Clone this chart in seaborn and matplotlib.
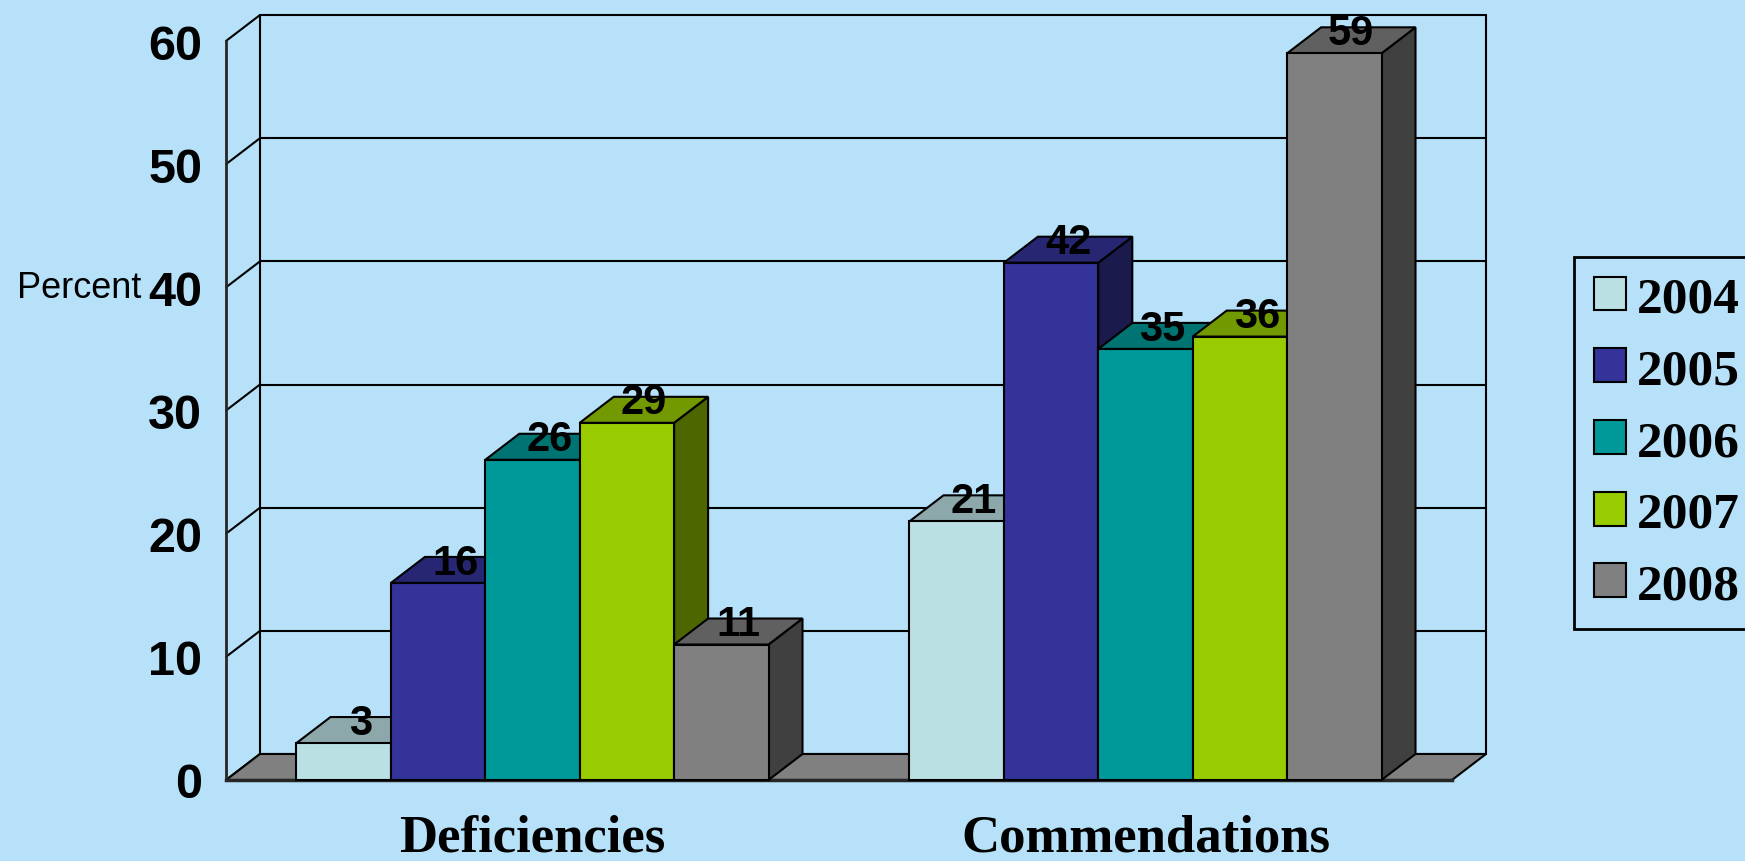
import numpy as np
import pandas as pd
import matplotlib
matplotlib.use("Agg")
import matplotlib.pyplot as plt
import seaborn as sns
from matplotlib.patches import Polygon, Patch, Rectangle
from matplotlib.colors import to_rgb

# ---------------- data ----------------
categories = ["Deficiencies", "Commendations"]
years = ["2004", "2005", "2006", "2007", "2008"]
deficiencies = [3, 16, 26, 29, 11]
commendations = [21, 42, 35, 36, 59]
y_ticks = [0, 10, 20, 30, 40, 50, 60]
y_label = "Percent"
colors = ["#BBE0E3", "#333399", "#009999", "#99CC00", "#808080"]

# ---------------- style ----------------
BG = "#B6E1F9"
FIG_W, FIG_H, DPI = 1745, 862, 100
AX_LEFT, AX_RIGHT, AX_TOP, AX_BOTTOM = 226, 1452, 42, 781  # pixels
DEPTH_PX = (34, 26)
BAR_WIDTH = 0.77

sns.set_style("white")
plt.rcParams["font.family"] = ["Liberation Sans", "DejaVu Sans"]
plt.rcParams.update({"text.color": "black", "axes.labelcolor": "black",
                     "xtick.color": "black", "ytick.color": "black"})

rows = []
for cat, vals in zip(categories, [deficiencies, commendations]):
    for yr, v in zip(years, vals):
        rows.append({"category": cat, "year": yr, "value": v})
df = pd.DataFrame(rows)

fig = plt.figure(figsize=(FIG_W / DPI, FIG_H / DPI), dpi=DPI, facecolor=BG)
ax = fig.add_axes([AX_LEFT / FIG_W, (FIG_H - AX_BOTTOM) / FIG_H,
                   (AX_RIGHT - AX_LEFT) / FIG_W, (AX_BOTTOM - AX_TOP) / FIG_H])
ax.set_facecolor("none")

sns.barplot(data=df, x="category", y="value", hue="year", order=categories,
            hue_order=years, palette=colors, width=BAR_WIDTH, saturation=1,
            edgecolor="black", linewidth=1.5, legend=False, ax=ax)

bars = sorted([p for p in ax.patches if isinstance(p, Rectangle) and p.get_height() > 0],
              key=lambda p: p.get_x())

ax.set_xlim(-0.5, len(categories) - 0.5)
ax.set_ylim(y_ticks[0], y_ticks[-1])

# convert depth offset to data units
x0, x1 = ax.get_xlim()
y0, y1 = ax.get_ylim()
dx = DEPTH_PX[0] * (x1 - x0) / (AX_RIGHT - AX_LEFT)
dy = DEPTH_PX[1] * (y1 - y0) / (AX_BOTTOM - AX_TOP)

# back wall + side wall grid
for t in y_ticks:
    ax.plot([x0 + dx, x1 + dx], [t + dy, t + dy], color="black", lw=1.5,
            clip_on=False, zorder=0.5)
    ax.plot([x0, x0 + dx], [t, t + dy], color="black", lw=1.5,
            clip_on=False, zorder=0.5)
for xx in (x0 + dx, x1 + dx):
    ax.plot([xx, xx], [y0 + dy, y1 + dy], color="black", lw=1.5,
            clip_on=False, zorder=0.5)

# floor
ax.add_patch(Polygon([(x0, y0), (x1, y0), (x1 + dx, y0 + dy), (x0 + dx, y0 + dy)],
                     closed=True, facecolor="#808080", edgecolor="black",
                     lw=1.5, clip_on=False, zorder=1))

# 3D bar faces
for i, b in enumerate(bars):
    z = 3 + i * 0.01
    xl, w, h = b.get_x(), b.get_width(), b.get_height()
    base = np.array(to_rgb(b.get_facecolor()))
    top = Polygon([(xl, h), (xl + w, h), (xl + w + dx, h + dy), (xl + dx, h + dy)],
                  closed=True, facecolor=base * 0.75, edgecolor="black", lw=1.5,
                  clip_on=False, zorder=z)
    side = Polygon([(xl + w, 0), (xl + w + dx, dy), (xl + w + dx, h + dy), (xl + w, h)],
                   closed=True, facecolor=base * 0.5, edgecolor="black", lw=1.5,
                   clip_on=False, zorder=z)
    ax.add_patch(side)
    ax.add_patch(top)
    b.set_zorder(z + 0.001)
    b.set_clip_on(False)
    ax.annotate(f"{h:g}", xy=(xl + w / 2 + dx / 2, h + dy), xytext=(0, -12),
                textcoords="offset points", ha="center", va="baseline",
                fontsize=30, fontweight="bold", color="black", zorder=10,
                family=["Liberation Sans", "DejaVu Sans"], annotation_clip=False)

# spines
for s in ("top", "right"):
    ax.spines[s].set_visible(False)
ax.spines["left"].set_linewidth(2)
ax.spines["bottom"].set_linewidth(2.5)
ax.spines["left"].set_zorder(2)
ax.spines["bottom"].set_zorder(2)

# ticks
ax.set_yticks(y_ticks)
ax.set_yticklabels([str(t) for t in y_ticks], fontsize=35, fontweight="bold",
                   family=["Liberation Sans", "DejaVu Sans"])
ax.tick_params(axis="y", direction="out", length=10, width=2, pad=7, colors="black")
ax.set_xticks(range(len(categories)))
ax.set_xticklabels(categories, fontsize=38, fontweight="bold",
                   family=["Liberation Serif", "DejaVu Serif"])
ax.tick_params(axis="x", which="major", length=0, pad=24, colors="black")
ax.set_xticks(np.arange(len(categories) + 1) - 0.5, minor=True)
ax.tick_params(axis="x", which="minor", direction="out", length=12, width=2, colors="black")
ax.set_xlabel("")

ax.set_ylabel(y_label, rotation=0, ha="left", va="center", fontsize=26, color="black",
              family=["Liberation Sans", "DejaVu Sans"])
ax.yaxis.set_label_coords((17 - AX_LEFT) / (AX_RIGHT - AX_LEFT),
                          (AX_BOTTOM - 288) / (AX_BOTTOM - AX_TOP))

# legend
handles = [Patch(facecolor=c, edgecolor="black", lw=1.5, label=y) for c, y in zip(colors, years)]
leg = fig.legend(handles=handles, loc="upper left",
                 bbox_to_anchor=(1574 / FIG_W, 1 - 258 / FIG_H),
                 prop={"family": ["Liberation Serif", "DejaVu Serif"], "weight": "bold", "size": 37},
                 frameon=True, fancybox=False, edgecolor="black", facecolor=BG,
                 framealpha=1, handlelength=0.64, handleheight=0.64,
                 handletextpad=0.2, labelspacing=0.5, borderpad=0.38, borderaxespad=0,
                 labelcolor="black")
leg.get_frame().set_linewidth(2)

fig.savefig("out.png", dpi=DPI, facecolor=BG)
